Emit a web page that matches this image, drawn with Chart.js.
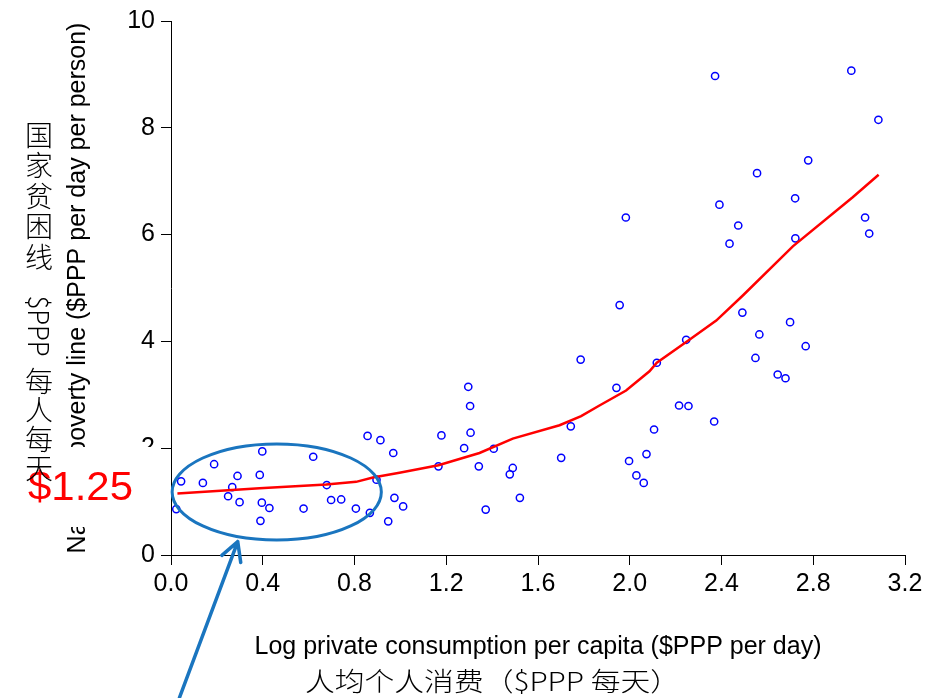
<!DOCTYPE html>
<html>
<head>
<meta charset="utf-8">
<script src="https://cdn.jsdelivr.net/npm/chart.js@4.4.1/dist/chart.umd.min.js"></script>
<style>
  html, body { margin: 0; padding: 0; background: #ffffff; }
  #wrap { width: 931px; height: 698px; position: relative; }
</style>
</head>
<body>
<div id="wrap"><canvas id="c" width="931" height="698"></canvas></div>
<script>
// Countries: log private consumption per capita vs national poverty line ($PPP/day/person)
const consumption = [
  0.023, 0.044, 0.139, 0.188, 0.249, 0.267, 0.290, 0.299, 0.398, 0.387, 0.396, 0.429, 0.390, 0.578,
  0.620, 0.679, 0.698, 0.742, 0.806, 0.857, 0.913, 0.896, 0.867, 0.969, 0.974, 1.012, 0.947,
  1.166, 1.179, 1.278, 1.296, 1.304, 1.306, 1.342, 1.372, 1.407, 1.477, 1.490, 1.521, 1.701,
  1.743, 1.786, 1.942, 1.997, 2.029, 2.061, 2.073, 2.118, 2.106, 2.246, 2.215, 2.256, 2.368,
  1.983, 1.956,
  2.372, 2.966, 3.084, 2.778, 2.555, 2.721, 2.391, 2.473, 2.435, 2.722, 3.026, 3.044, 2.491,
  2.699, 2.565, 2.767, 2.548, 2.645, 2.679
];
const povertyLine = [
  0.86, 1.38, 1.35, 1.70, 1.10, 1.27, 1.48, 0.99, 1.94, 1.50, 0.98, 0.88, 0.64, 0.87,
  1.84, 1.31, 1.03, 1.04, 0.87, 2.23, 2.15, 1.41, 0.79, 1.91, 1.07, 0.91, 0.63,
  1.66, 2.24, 2.00, 3.15, 2.79, 2.29, 1.66, 0.85, 1.99, 1.51, 1.63, 1.07, 1.82,
  2.41, 3.66, 3.13, 1.76, 1.49, 1.35, 1.89, 3.60, 2.35, 4.03, 2.80, 2.79, 2.50,
  6.32, 4.68,
  8.97, 9.07, 8.15, 7.39, 7.15, 6.68, 6.56, 6.17, 5.83, 5.93, 6.32, 6.02, 4.54,
  4.36, 4.13, 3.91, 3.69, 3.38, 3.31
];

// Smoothed (lowess) fit
const fitConsumption = [0.028, 0.386, 0.677, 0.807, 0.880, 0.996, 1.166, 1.345, 1.490, 1.694,
  1.788, 1.868, 1.984, 2.086, 2.118, 2.260, 2.377, 2.493, 2.711, 2.972, 3.085];
const fitPovertyLine = [1.15, 1.25, 1.32, 1.37, 1.45, 1.54, 1.68, 1.91, 2.18, 2.43,
  2.60, 2.80, 3.08, 3.44, 3.60, 4.03, 4.39, 4.86, 5.78, 6.70, 7.12];

// Axis ticks
const xTickValues = [0.0, 0.4, 0.8, 1.2, 1.6, 2.0, 2.4, 2.8, 3.2];
const yTickValues = [0, 2, 4, 6, 8, 10];

// Highlight ring around the poorest countries (centre and half-axes in data units)
const ringCenter = [0.461, 1.18];
const ringHalfAxes = [0.456, 0.90];
// Arrow pointing at the ring (tail and tip in data units)
const arrowTail = [0.037, -2.67];
const arrowTip = [0.291, 0.25];

const LATIN = '"Liberation Sans", Arial, sans-serif';
const CJK = '"Noto Sans CJK SC", "Noto Sans", sans-serif';
const ACCENT = '#1a75bf';

function fitText(ctx, text, x, y, width) {
  const w = ctx.measureText(text).width;
  ctx.save();
  ctx.translate(x, y);
  ctx.scale(width / w, 1);
  ctx.fillText(text, 0, 0);
  ctx.restore();
}

const overlay = {
  id: 'overlay',
  afterDraw(chart) {
    const { ctx } = chart;
    const xs = chart.scales.x, ys = chart.scales.y;
    ctx.save();

    // ring
    const cx = xs.getPixelForValue(ringCenter[0]);
    const cy = ys.getPixelForValue(ringCenter[1]);
    const rx = xs.getPixelForValue(ringCenter[0] + ringHalfAxes[0]) - cx;
    const ry = cy - ys.getPixelForValue(ringCenter[1] + ringHalfAxes[1]);
    ctx.beginPath();
    ctx.ellipse(cx, cy, rx, ry, 0, 0, Math.PI * 2);
    ctx.strokeStyle = ACCENT;
    ctx.lineWidth = 3;
    ctx.stroke();

    // arrow
    const tx = xs.getPixelForValue(arrowTail[0]), ty = ys.getPixelForValue(arrowTail[1]);
    const hx = xs.getPixelForValue(arrowTip[0]), hy = ys.getPixelForValue(arrowTip[1]);
    ctx.beginPath();
    ctx.moveTo(tx, ty);
    ctx.lineTo(hx, hy);
    const ang = Math.atan2(ty - hy, tx - hx);
    const len = 21, spread = 0.5;
    ctx.moveTo(hx + len * Math.cos(ang + spread), hy + len * Math.sin(ang + spread));
    ctx.lineTo(hx, hy);
    ctx.lineTo(hx + len * Math.cos(ang - spread), hy + len * Math.sin(ang - spread));
    ctx.lineWidth = 3.5;
    ctx.lineCap = 'round';
    ctx.lineJoin = 'round';
    ctx.stroke();

    // $1.25 callout on a white box
    ctx.fillStyle = '#ffffff';
    ctx.fillRect(58, 447, 100, 80);
    ctx.fillStyle = '#ff0000';
    ctx.font = '40px ' + LATIN;
    ctx.textAlign = 'left';
    ctx.textBaseline = 'middle';
    fitText(ctx, '$1.25', 28, 489, 105);

    // Chinese vertical axis title
    ctx.fillStyle = '#000000';
    ctx.font = '300 28px ' + CJK;
    ctx.textAlign = 'center';
    ctx.textBaseline = 'middle';
    const colX = 39;
    '国家贫困线'.split('').forEach((ch, i) => ctx.fillText(ch, colX, 135 + i * 30.5));
    ctx.save();
    ctx.translate(colX, 326);
    ctx.rotate(Math.PI / 2);
    fitText(ctx, '$PPP', 0, 0, 61);
    ctx.restore();
    '每人每天'.split('').forEach((ch, i) => ctx.fillText(ch, colX, 381 + i * 29));

    // Chinese horizontal axis title
    ctx.font = '300 26px ' + CJK;
    ctx.textAlign = 'left';
    fitText(ctx, '人均个人消费（$PPP 每天）', 305, 681, 375);

    ctx.restore();
  }
};

new Chart(document.getElementById('c'), {
  type: 'scatter',
  data: {
    datasets: [
      {
        label: 'fit',
        type: 'line',
        data: fitConsumption.map((v, i) => ({ x: v, y: fitPovertyLine[i] })),
        borderColor: '#ff0000',
        borderWidth: 2.5,
        pointRadius: 0,
        tension: 0,
        fill: false,
        order: 1
      },
      {
        label: 'countries',
        data: consumption.map((v, i) => ({ x: v, y: povertyLine[i] })),
        pointStyle: 'circle',
        pointRadius: 3.6,
        pointBorderWidth: 1.5,
        borderColor: '#0000ff',
        pointBorderColor: '#0000ff',
        backgroundColor: 'rgba(0,0,0,0)',
        pointBackgroundColor: 'rgba(0,0,0,0)',
        order: 2
      }
    ]
  },
  options: {
    responsive: false,
    animation: false,
    devicePixelRatio: 1,
    layout: { padding: { top: 20, right: 26, left: 0, bottom: 0 } },
    plugins: { legend: { display: false }, tooltip: { enabled: false } },
    scales: {
      x: {
        type: 'linear',
        min: 0,
        max: 3.2,
        afterBuildTicks: s => { s.ticks = xTickValues.map(v => ({ value: v })); },
        afterFit: s => { s.height = 143; },
        ticks: {
          color: '#000000',
          font: { family: LATIN, size: 25 },
          padding: 4,
          maxRotation: 0,
          autoSkip: false,
          callback: v => Number(v).toFixed(1)
        },
        grid: { display: true, drawOnChartArea: false, drawTicks: true, tickLength: 10, color: '#000000', lineWidth: 1 },
        border: { display: true, color: '#000000', width: 1 },
        title: {
          display: true,
          text: 'Log private consumption per capita ($PPP per day)',
          color: '#000000',
          font: { family: LATIN, size: 25 },
          padding: { top: 0, bottom: 36 }
        }
      },
      y: {
        type: 'linear',
        min: 0,
        max: 10,
        afterBuildTicks: s => { s.ticks = yTickValues.map(v => ({ value: v })); },
        afterFit: s => { s.width = 171; },
        ticks: {
          color: '#000000',
          font: { family: LATIN, size: 25 },
          padding: 6,
          autoSkip: false,
          callback: v => String(v)
        },
        grid: { display: true, drawOnChartArea: false, drawTicks: true, tickLength: 10, color: '#000000', lineWidth: 1 },
        border: { display: true, color: '#000000', width: 1 },
        title: {
          display: true,
          text: 'National poverty line ($PPP per day per person)',
          color: '#000000',
          font: { family: LATIN, size: 25 },
          padding: { top: 63, bottom: 0 }
        }
      }
    }
  },
  plugins: [overlay]
});
</script>
</body>
</html>
